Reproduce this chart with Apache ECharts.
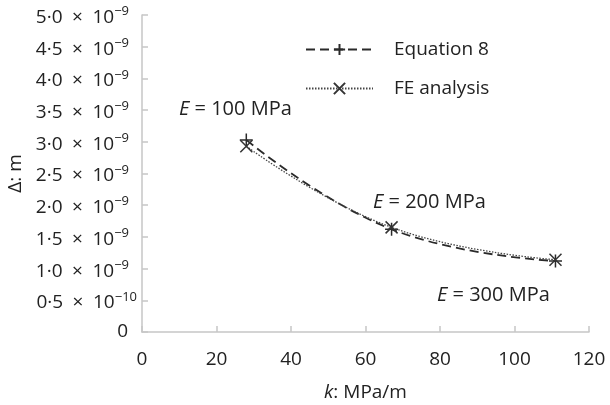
<!DOCTYPE html>
<html>
<head>
<meta charset="utf-8">
<script src="https://cdn.jsdelivr.net/npm/echarts@6/dist/echarts.min.js"></script>
<style>
  html, body { margin: 0; padding: 0; background: #ffffff; }
  #chart { width: 610px; height: 405px; }
</style>
</head>
<body>
<div id="chart"></div>
<script>
// Stiffness k (MPa/m) for E = 100, 200, 300 MPa
const kValues = [28, 67, 111];
// Displacement Δ in units of 10⁻⁹ m
const deltaEquation8 = [3.03, 1.62, 1.12];
const deltaFE = [2.93, 1.65, 1.14];

const seriesNames = ['Equation 8', 'FE analysis'];

// y tick labels: mantissa and power-of-ten exponent
const yTickMantissa = ['0', '0·5', '1·0', '1·5', '2·0', '2·5', '3·0', '3·5', '4·0', '4·5', '5·0'];
const yTickExponent = ['', '−10', '−9', '−9', '−9', '−9', '−9', '−9', '−9', '−9', '−9'];

const xTicks = [0, 20, 40, 60, 80, 100, 120];

const annotations = ['100', '200', '300'];

const FONT = '"Open Sans", "Noto Sans", sans-serif';
const TEXT = '#222222';
const AXIS = '#c6c6c6';
const FS = 19;
const SP = '\u2002';

const chart = echarts.init(document.getElementById('chart'), null, { renderer: 'canvas' });

const plusPath = 'path://M5,0L5,10M0,5L10,5';
const crossPath = 'path://M0,0L10,10M10,0L0,10';

function pair(ys) {
  return kValues.map((k, i) => [k, ys[i]]);
}

function annotationText(v) {
  return '{i|E}{n| = ' + v + ' MPa}';
}
const annRich = {
  i: { fontFamily: FONT, fontSize: 20, fontStyle: 'italic', fill: TEXT, color: TEXT },
  n: { fontFamily: FONT, fontSize: 20, fill: TEXT, color: TEXT }
};

const supBase = { fontFamily: FONT, fontSize: 13, color: TEXT, lineHeight: 24, verticalAlign: 'bottom' };

const option = {
  backgroundColor: '#ffffff',
  animation: false,
  textStyle: { fontFamily: FONT, color: TEXT },
  grid: { left: 142, right: 21, top: 15, bottom: 73, containLabel: false, outerBoundsMode: 'none' },
  legend: {
    orient: 'vertical',
    left: 305,
    top: 40,
    padding: 0,
    itemWidth: 67,
    itemHeight: 14,
    itemGap: 20,
    data: seriesNames,
    textStyle: { fontFamily: FONT, fontSize: FS, color: TEXT, padding: [0, 0, 0, 16] }
  },
  xAxis: {
    type: 'value',
    min: 0,
    max: 120,
    interval: 20,
    name: '{i|k}{n|: MPa/m}',
    nameLocation: 'middle',
    nameGap: 51,
    nameTextStyle: {
      rich: {
        i: { fontFamily: FONT, fontSize: FS, fontStyle: 'italic', color: TEXT },
        n: { fontFamily: FONT, fontSize: FS, color: TEXT }
      }
    },
    axisLine: { show: true, lineStyle: { color: AXIS, width: 1.5 } },
    axisTick: { show: true, inside: true, length: 6, lineStyle: { color: AXIS, width: 1.5 } },
    axisLabel: {
      fontFamily: FONT, fontSize: FS, color: TEXT, margin: 18,
      formatter: (v) => String(xTicks[Math.round(v / 20)])
    },
    splitLine: { show: false }
  },
  yAxis: {
    type: 'value',
    min: 0,
    max: 5,
    interval: 0.5,
    name: 'Δ: m',
    nameLocation: 'middle',
    nameGap: 117,
    nameRotate: 90,
    nameTextStyle: { fontFamily: FONT, fontSize: FS, color: TEXT },
    axisLine: { show: true, lineStyle: { color: AXIS, width: 1.5 } },
    axisTick: { show: true, inside: true, length: 6, lineStyle: { color: AXIS, width: 1.5 } },
    axisLabel: {
      margin: 5,
      formatter: function (v) {
        const idx = Math.round(v / 0.5);
        const exp = yTickExponent[idx];
        if (!exp) return '{z|' + yTickMantissa[idx] + '}';
        const style = exp.length > 2 ? 's10' : 's9';
        return '{m|' + yTickMantissa[idx] + SP + '×' + SP + '10}{' + style + '|' + exp + '}';
      },
      rich: {
        m: { fontFamily: FONT, fontSize: FS, color: TEXT, lineHeight: 24, verticalAlign: 'bottom' },
        s9: Object.assign({ padding: [0, 8, 9, 0] }, supBase),
        s10: Object.assign({ padding: [0, 0, 9, 0] }, supBase),
        z: { fontFamily: FONT, fontSize: FS, color: TEXT, padding: [0, 9, 0, 0] }
      }
    },
    splitLine: { show: false }
  },
  series: [
    {
      name: seriesNames[0],
      type: 'line',
      smooth: 0.45,
      data: pair(deltaEquation8),
      symbol: plusPath,
      symbolSize: 13,
      lineStyle: { color: '#2a2a2a', width: 1.8, type: [9, 5] },
      itemStyle: { color: '#2a2a2a', borderColor: '#2a2a2a', borderWidth: 1.5 },
      z: 3
    },
    {
      name: seriesNames[1],
      type: 'line',
      smooth: 0.45,
      data: pair(deltaFE),
      symbol: crossPath,
      symbolSize: 12,
      lineStyle: { color: '#444444', width: 1.3, type: [1.5, 1.5] },
      itemStyle: { color: '#333333', borderColor: '#333333', borderWidth: 1.5 },
      z: 4
    }
  ],
  graphic: [
    { type: 'text', left: 179, top: 99, style: { text: annotationText(annotations[0]), rich: annRich } },
    { type: 'text', left: 373, top: 192, style: { text: annotationText(annotations[1]), rich: annRich } },
    { type: 'text', left: 437, top: 285, style: { text: annotationText(annotations[2]), rich: annRich } }
  ]
};

chart.setOption(option);
</script>
</body>
</html>
